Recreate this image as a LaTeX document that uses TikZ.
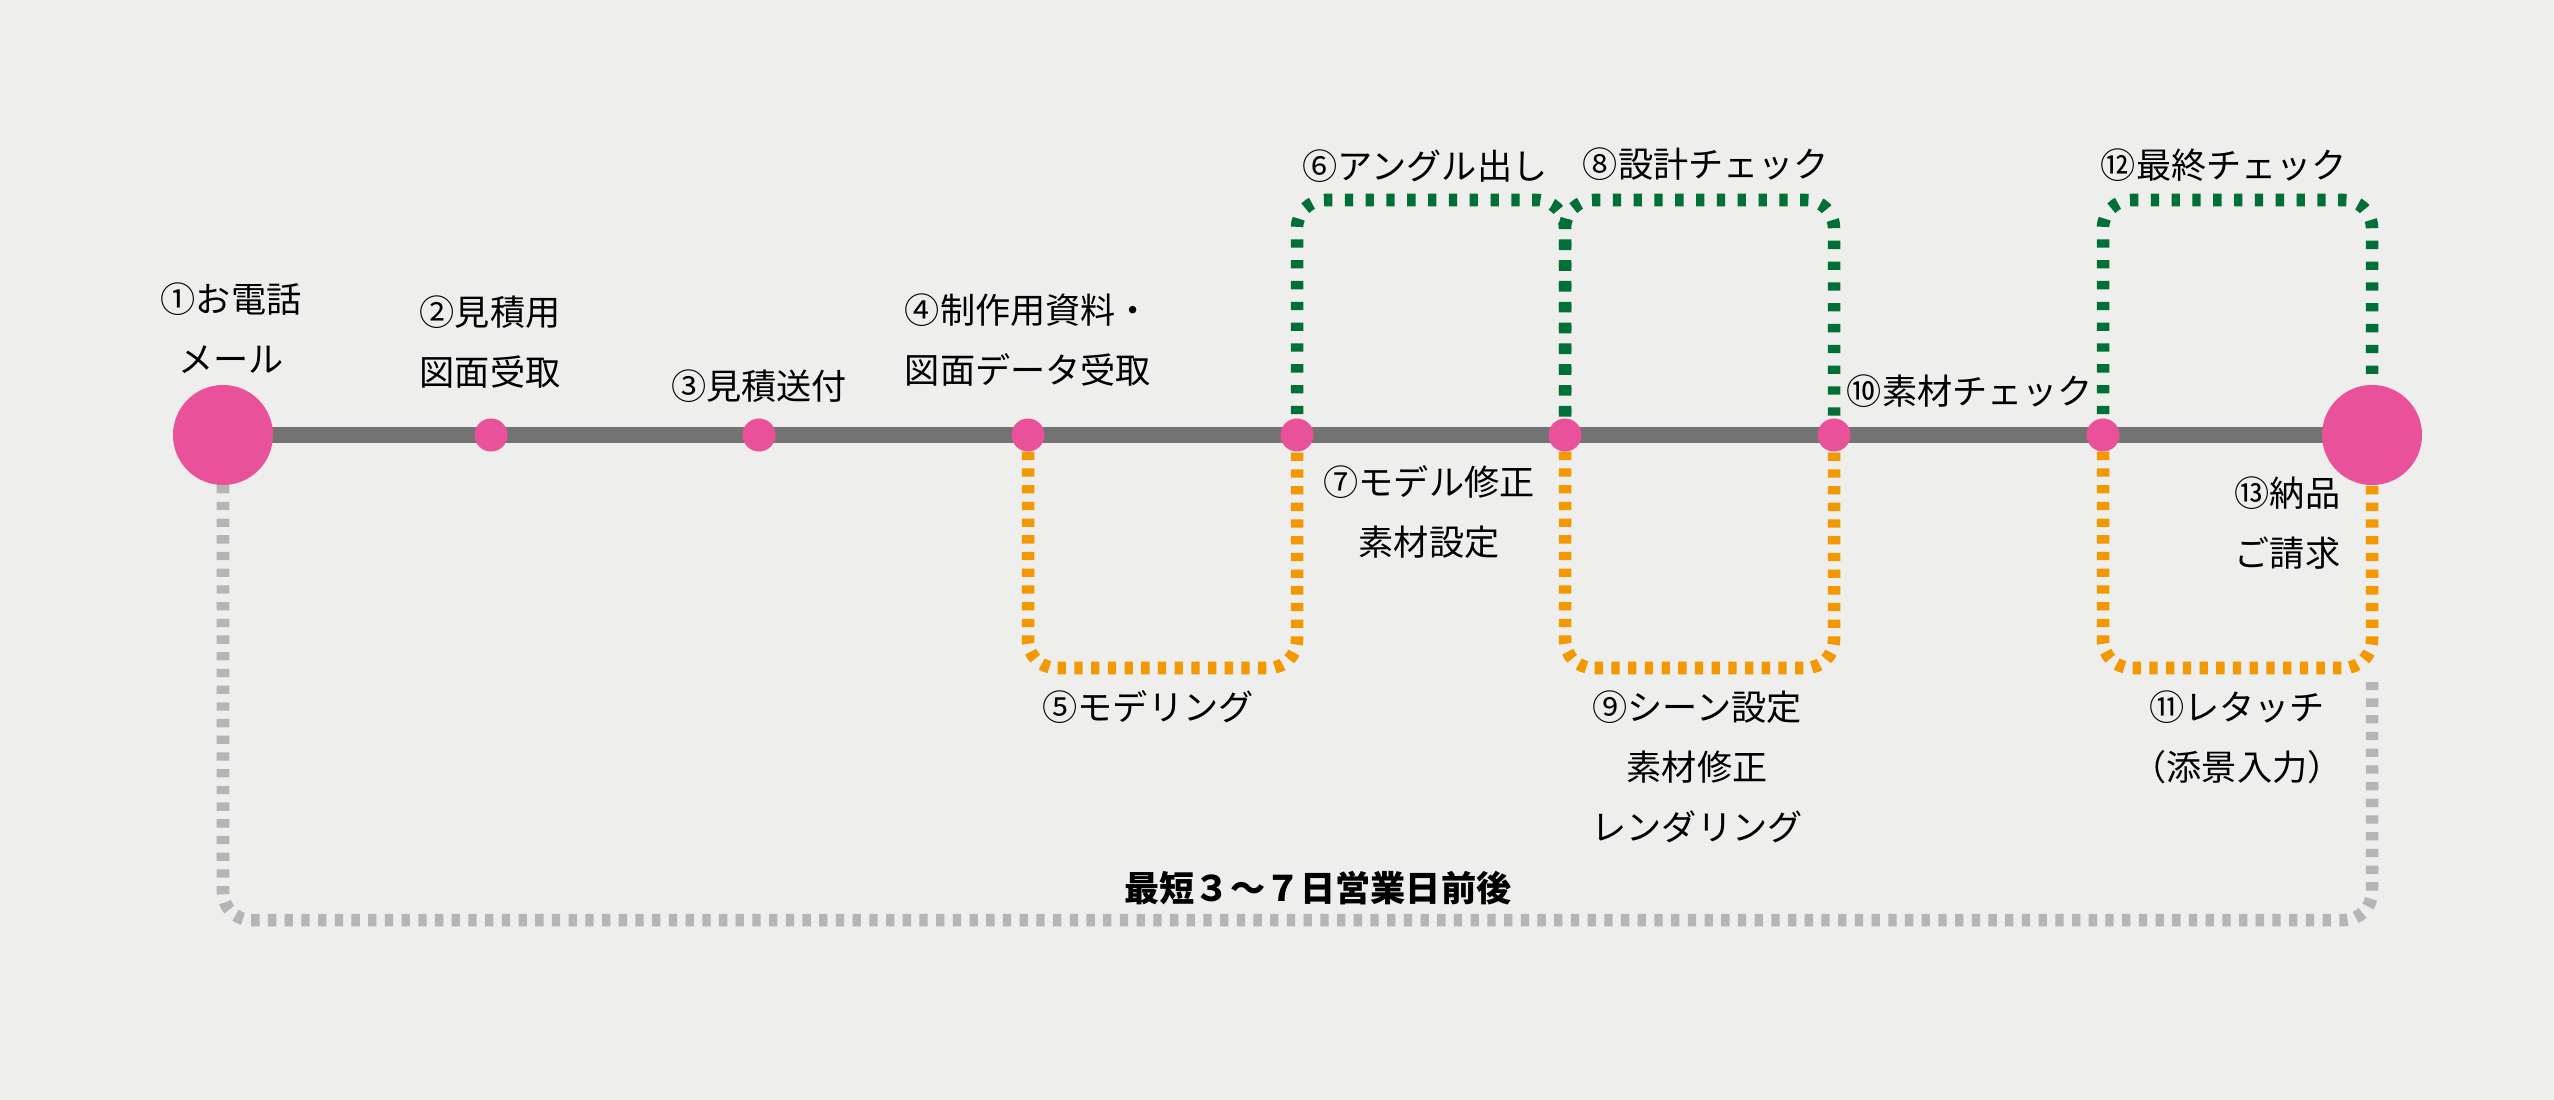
\documentclass[tikz,border=0pt]{standalone}
\usepackage{fontspec}
\setmainfont{Noto Sans CJK JP}
\definecolor{cBg}{RGB}{238,238,236}
\definecolor{cLine}{RGB}{115,115,115}
\definecolor{cPink}{RGB}{233,81,154}
\definecolor{cGreen}{RGB}{0,112,55}
\definecolor{cOrange}{RGB}{243,152,0}
\definecolor{cGray}{RGB}{181,181,181}
\begin{document}
\begin{tikzpicture}[x=0.01cm,y=-0.01cm,
  lbl/.style={font=\fontsize{10pt}{17.1pt}\selectfont, align=center, inner sep=0pt, text=black},
  smalldot/.style={circle, fill=cPink, minimum size=0.33cm, inner sep=0pt},
  bigdot/.style={circle, fill=cPink, minimum size=1cm, inner sep=0pt},
  mainline/.style={draw=cLine, line width=4.75pt},
  greenloop/.style={draw=cGreen, line width=3.56pt, dash pattern=on 2.36pt off 3.56pt, rounded corners=8pt},
  orangeloop/.style={draw=cOrange, line width=3.56pt, dash pattern=on 2.36pt off 2.39pt, rounded corners=8pt},
  grayloop/.style={draw=cGray, line width=3.56pt, dash pattern=on 2.36pt off 2.39pt, rounded corners=8pt}]
\fill[cBg] (0,0) rectangle (2554,1100);
\useasboundingbox (0,0) rectangle (2554,1100);
% positions
\coordinate (c1) at (223,435);
\coordinate (c2) at (491,435);
\coordinate (c3) at (759,435);
\coordinate (c4) at (1028,435);
\coordinate (c5) at (1297,435);
\coordinate (c6) at (1565,435);
\coordinate (c7) at (1834,435);
\coordinate (c8) at (2103,435);
\coordinate (c9) at (2372,435);
\coordinate (gt1) at (1431,200);
\coordinate (gt2) at (1700,200);
\coordinate (gt3) at (2238,200);
\coordinate (ob1) at (1162,668);
\coordinate (ob2) at (1700,668);
\coordinate (ob3) at (2238,668);
\coordinate (gs) at (2372,682);
\coordinate (gb) at (1300,920);
% connectors
\draw[grayloop] (c1) |- (gb) -| (gs);
\draw[mainline] (c1) -- (c9);
\draw[greenloop] (c5) |- (gt1) -| (c6);
\draw[greenloop] (c6) |- (gt2) -| (c7);
\draw[greenloop] (c8) |- (gt3) -| (c9);
\draw[orangeloop] (c4) |- (ob1) -| (c5);
\draw[orangeloop] (c6) |- (ob2) -| (c7);
\draw[orangeloop] (c8) |- (ob3) -| (c9);
% dots
\node[bigdot] (p1) at (c1) {};
\node[smalldot] (p2) at (c2) {};
\node[smalldot] (p3) at (c3) {};
\node[smalldot] (p4) at (c4) {};
\node[smalldot] (p5) at (c5) {};
\node[smalldot] (p6) at (c6) {};
\node[smalldot] (p7) at (c7) {};
\node[smalldot] (p8) at (c8) {};
\node[bigdot] (p9) at (c9) {};
% labels
\node[lbl] (t1) at (231,328) {①お電話\\メール};
\node[lbl] (t2) at (490,342) {②見積用\\図面受取};
\node[lbl] (t3) at (759,386) {③見積送付};
\node[lbl] (t4) at (1028,340) {④制作用資料・\\図面データ受取};
\node[lbl] (t5) at (1148,707) {⑤モデリング};
\node[lbl] (t6) at (1425,166) {⑥アングル出し};
\node[lbl] (t7) at (1429,512) {⑦モデル修正\\素材設定};
\node[lbl] (t8) at (1706,164) {⑧設計チェック};
\node[lbl] (t9) at (1697,767) {⑨シーン設定\\素材修正\\レンダリング};
\node[lbl] (t10) at (1970,391) {⑩素材チェック};
\node[lbl] (t11) at (2237,737) {⑪レタッチ\\（添景入力）};
\node[lbl] (t12) at (2224,165) {⑫最終チェック};
\node[lbl, align=right, anchor=east] (t13) at (2341,523) {⑬納品\\ご請求};
\node[lbl, font=\fontsize{10pt}{17.1pt}\selectfont\bfseries] (t14) at (1318,888) {最短３～７日営業日前後};
\end{tikzpicture}
\end{document}
